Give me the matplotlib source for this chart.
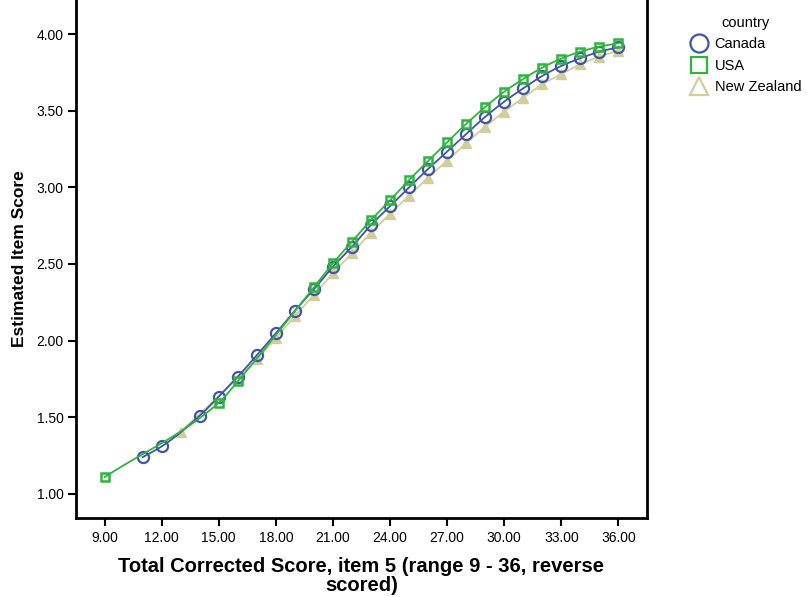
import numpy as np
import matplotlib.pyplot as plt
from matplotlib.lines import Line2D

plt.rcParams['font.family'] = ['Liberation Sans', 'DejaVu Sans']

# ----------------------------------------------------------
# DATA
# ----------------------------------------------------------
canada_x = [11, 12, 14, 15, 16, 17, 18, 19, 20, 21, 22, 23, 24, 25, 26, 27, 28,
            29, 30, 31, 32, 33, 34, 35, 36]
canada_y = [1.24, 1.31, 1.51, 1.635, 1.765, 1.905, 2.048, 2.196, 2.335, 2.483,
            2.613, 2.755, 2.877, 3.00, 3.12, 3.233, 3.348, 3.46, 3.559, 3.646,
            3.727, 3.792, 3.842, 3.885, 3.914]

usa_x = [9, 15, 16, 20, 21, 22, 23, 24, 25, 26, 27, 28, 29, 30, 31, 32, 33, 34,
         35, 36]
usa_y = [1.11, 1.595, 1.735, 2.348, 2.505, 2.646, 2.787, 2.915, 3.048, 3.172,
         3.294, 3.414, 3.524, 3.624, 3.707, 3.781, 3.840, 3.885, 3.918, 3.940]

nz_x = [13, 17, 18, 19, 20, 21, 22, 23, 24, 25, 26, 27, 28, 29, 30, 31, 32, 33,
        34, 35, 36]
nz_y = [1.406, 1.879, 2.016, 2.161, 2.298, 2.44, 2.57, 2.705, 2.827, 2.946,
        3.063, 3.174, 3.288, 3.396, 3.494, 3.585, 3.673, 3.738, 3.803, 3.853,
        3.892]

xticks = [9, 12, 15, 18, 21, 24, 27, 30, 33, 36]
yticks = [1.0, 1.5, 2.0, 2.5, 3.0, 3.5, 4.0]

c_canada = "#3F55A8"
c_usa = "#2DB53C"
c_nz = "#D3CD9C"


# ----------------------------------------------------------
# smooth line through the points (monotone cubic, for drawing only)
# ----------------------------------------------------------
def pchip_line(x, y, n=400):
    x = np.asarray(x, float)
    y = np.asarray(y, float)
    h = np.diff(x)
    d = np.diff(y) / h
    m = np.zeros_like(y)
    m[0], m[-1] = d[0], d[-1]
    for k in range(1, len(x) - 1):
        if d[k - 1] * d[k] > 0:
            w1 = 2 * h[k] + h[k - 1]
            w2 = h[k] + 2 * h[k - 1]
            m[k] = (w1 + w2) / (w1 / d[k - 1] + w2 / d[k])
    xs = np.linspace(x[0], x[-1], n)
    i = np.clip(np.searchsorted(x, xs) - 1, 0, len(x) - 2)
    t = (xs - x[i]) / h[i]
    h00 = 2 * t**3 - 3 * t**2 + 1
    h10 = t**3 - 2 * t**2 + t
    h01 = -2 * t**3 + 3 * t**2
    h11 = t**3 - t**2
    ys = h00 * y[i] + h10 * h[i] * m[i] + h01 * y[i + 1] + h11 * h[i] * m[i + 1]
    return xs, ys


# ----------------------------------------------------------
# PLOT
# ----------------------------------------------------------
fig = plt.figure(figsize=(8.07, 5.97), dpi=100)
ax = fig.add_axes([0.0942, 0.1323, 0.7075, 0.8677])

xs, ys = pchip_line(nz_x, nz_y)
ax.plot(xs, ys, color=c_nz, lw=1.3, zorder=2)
ax.plot(nz_x, nz_y, ls="none", marker="^", ms=7, color=c_nz, zorder=3)

xs, ys = pchip_line(canada_x, canada_y)
ax.plot(xs, ys, color=c_canada, lw=1.3, zorder=4)
ax.plot(canada_x, canada_y, ls="none", marker="o", ms=8, mfc="none",
        mec=c_canada, mew=1.6, zorder=5)

xs, ys = pchip_line(usa_x, usa_y)
ax.plot(xs, ys, color=c_usa, lw=1.3, zorder=6)
ax.plot(usa_x, usa_y, ls="none", marker="s", ms=5.5, mfc="none",
        mec=c_usa, mew=1.8, zorder=7)

ax.set_xlim(7.5, 37.5)
ax.set_ylim(0.843, 4.222)
ax.set_xticks(xticks)
ax.set_xticklabels([f"{v:.2f}" for v in xticks])
ax.set_yticks(yticks)
ax.set_yticklabels([f"{v:.2f}" for v in yticks])
ax.tick_params(direction="out", length=6, width=1.5, labelsize=10, pad=3)

for side in ["left", "bottom", "right"]:
    ax.spines[side].set_linewidth(2)
ax.spines["top"].set_visible(False)

ax.set_xlabel("Total Corrected Score, item 5 (range 9 - 36, reverse\nscored)",
              fontsize=14.5, fontweight="bold", labelpad=9, linespacing=1.0)
ax.set_ylabel("Estimated Item Score", fontsize=12.5, fontweight="bold",
              labelpad=7)

handles = [
    Line2D([], [], ls="none", marker="o", ms=13, mfc="none", mec=c_canada, mew=1.6),
    Line2D([], [], ls="none", marker="s", ms=11, mfc="none", mec=c_usa, mew=1.6),
    Line2D([], [], ls="none", marker="^", ms=13, mfc="none", mec=c_nz, mew=1.6),
]
leg = fig.legend(handles, ["Canada", "USA", "New Zealand"], title="country",
                 loc="upper left", bbox_to_anchor=(0.843, 0.99), frameon=False,
                 fontsize=10.5, title_fontsize=10.5, handletextpad=0.45,
                 labelspacing=0.5, handlelength=1.2, borderpad=0.2)

fig.savefig("out.png", dpi=100)
